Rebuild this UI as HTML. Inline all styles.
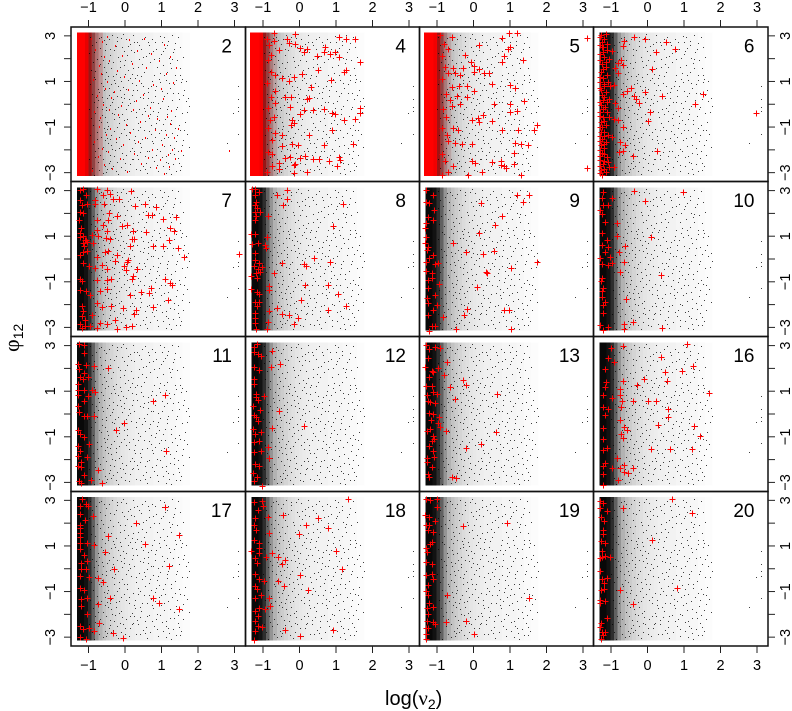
<!DOCTYPE html>
<html lang="en">
<head>
<meta charset="utf-8">
<title>Scatter panels of phi12 against log(nu2)</title>
<style>
html,body{margin:0;padding:0;background:#fff;}
svg{display:block;}
text{font-family:"Liberation Sans",sans-serif;fill:#000;}
</style>
</head>
<body>
<svg id="chart" xmlns="http://www.w3.org/2000/svg" width="792" height="711" viewBox="0 0 792 711">
<text x="385" y="705" font-size="20">log(<tspan font-family="Liberation Serif" font-size="21">ν</tspan><tspan font-size="14" dy="4">2</tspan><tspan dy="-4">)</tspan></text>
<text transform="translate(19,352) rotate(-90)" font-size="20"><tspan font-family="Liberation Serif" font-size="22">φ</tspan><tspan font-size="14" dy="4">12</tspan></text>
</svg>
<script>
const xTicks=[-1,0,1,2,3];
const yTicks=[-3,-2,-1,0,1,2,3];
const yTickLabels=[3,1,-1,-3];
const panelLabels=[2,4,5,6,7,8,9,10,11,12,13,16,17,18,19,20];
const densityStart=-1.32;
const densityWidth=0.1;
const densityAlpha=[.97,.97,.93,.82,.62,.42,.3,.24,.2,.17,.14,.12,.1,.09,.08,.07,.06,.06,.05,.05,.05,.04,.04,.04,.04,.03,.03,.02,.02,.01,.01];
const redEdges=[-1.36,-1.31,-1.2,-1.1,-1,-.9,-.8,-.7,-.6];
const redAlpha2=[0,1,1,.9,.5,.3,.22,.15];
const redAlpha4=[1,1,1,.95,.5,.3,.15,.08];
const redAlpha5=[1,1,1,.95,.55,.3,.15,.08];
const bgPoints=[[3.1,.79],[3.1,.23],[3.1,-.12],[3.1,-.3],[3.1,-1.29],[2.79,-1.68],[2.97,-.37],
[-.72,2.91],[-.66,2.13],[-.81,1.44],[-.6,.82],[-.75,.17],[-.63,-.49],[-.78,-1.21],[-.59,-1.88],[-.74,-2.52],[-.61,-3.01],[-.52,2.66],[-.47,1.81],[-.55,1.12],[-.43,.39],[-.51,-.27],[-.46,-.94],[-.56,-1.57],[-.42,-2.24],[-.49,-2.83],[-.36,3.02],[-.31,2.38],[-.39,1.57],[-.28,.94],[-.35,.08],[-.3,-.66],[-.38,-1.33],[-.27,-2.02],[-.33,-2.69],[-.22,2.79],[-.18,2.07],[-.25,1.33],[-.14,.61],[-.2,-.12],[-.16,-.83],[-.24,-1.66],[-.13,-2.37],[-.19,-3.05],[-.08,2.51],[-.04,1.72],[-.11,1.01],[-.02,.26],[-.07,-.43],[-.03,-1.09],[-.1,-1.84],[0,-2.58],[-.05,3.07],
[-.68,2.48],[-.57,1.62],[-.7,.52],[-.53,-.12],[-.67,-.77],[-.5,-1.46],[-.69,-2.21],[-.54,-2.73],[-.41,2.16],[-.44,.71],[-.29,-.41],[-.37,-1.77],[-.26,-2.91],[-.15,1.91],[-.12,.33],[-.17,-1.42],[-.09,-2.13],[-.01,1.34],[-.06,.77],[-.03,-.68],[-.11,-2.76],[-.23,2.94],[-.32,1.23],[-.21,-.98],[-.4,-2.47],[-.62,.31],[-.48,-1.08],[-.58,2.82],[-.34,.53],
[.03,2.88],[.06,2.17],[.09,1.49],[.02,.69],[.08,-.05],[.05,-.91],[.11,-1.52],[.04,-2.22],[.1,-2.94],[.14,2.63],[.17,1.88],[.13,1.17],[.19,.41],[.16,-.31],[.12,-1.23],[.2,-1.94],[.15,-2.61],[.23,3.03],[.26,2.31],[.22,1.58],[.29,.86],[.25,.14],[.31,-.57],[.27,-1.38],[.24,-2.07],[.3,-2.84],[.34,2.74],[.37,1.97],[.33,.62],[.39,-.19],[.36,-.84],[.41,-1.69],[.35,-2.42],[.44,2.43],[.47,1.76],[.43,.95],[.49,.29],[.46,-.43],[.51,-1.13],[.45,-1.87],[.48,-2.69],[.54,2.97],[.58,2.12],[.53,.48],[.6,-.02],[.56,-.74],[.61,-1.49],[.55,-2.28],[.59,-3.02],[.65,2.59],[.68,1.84],[.64,.73],[.7,.11],[.66,-.62],[.72,-1.31],[.67,-2.03],[.69,-2.77],[.75,2.86],[.79,1.99],[.74,1.02],[.81,.38],[.77,-.29],[.83,-1.02],[.76,-1.72],[.8,-2.51],[.86,2.42],[.89,1.63],[.85,.82],[.91,.05],[.87,-.51],[.93,-1.26],[.88,-1.98],[.9,-2.93],[.96,3.01],[.99,2.21],[.95,1.38],[1.01,.57],[.97,-.16],[1.03,-.88],[.98,-1.58],[1.02,-2.33],
[.07,2.54],[.18,.92],[.28,-1.71],[.38,2.58],[.42,-.98],[.52,1.41],[.57,-2.56],[.63,.27],[.71,-.93],[.78,2.33],[.84,-2.22],[.92,1.12],[.94,-.71],[1,2.73],[1.04,-2.71],[.21,-2.39],[.32,1.29],[.4,-2.88],[.5,.81],[.62,2.74],[.73,-1.59],[.82,.63],
[1.06,2.94],[1.09,2.47],[1.05,1.74],[1.12,1.05],[1.08,.34],[1.14,-.41],[1.1,-1.12],[1.07,-1.83],[1.13,-2.52],[1.11,-3.01],[1.17,2.76],[1.2,2.03],[1.16,1.42],[1.23,.72],[1.19,-.08],[1.25,-.67],[1.18,-1.43],[1.22,-2.14],[1.21,-2.83],[1.28,3.04],[1.31,2.29],[1.27,1.61],[1.34,.88],[1.3,.17],[1.36,-.53],[1.29,-1.24],[1.33,-1.91],[1.32,-2.63],[1.26,-3.06],[1.38,2.68],[1.42,1.93],[1.37,1.27],[1.45,.51],[1.41,-.22],[1.47,-.91],[1.4,-1.62],[1.44,-2.37],[1.39,-2.91],[1.5,1.58],[1.53,.96],[1.49,.23],[1.57,-.38],[1.52,-1.11],[1.55,-1.79],[1.48,-2.56],[1.62,.62],[1.67,.13],[1.71,-.34],[1.64,-.78],[1.69,-1.31],[1.74,-1.89],[1.59,-2.22],[1.54,-2.72],[1.46,2.97],[1.35,2.41],[1.56,1.12],[1.76,-.09],[1.73,.28],[1.66,1.02],[1.6,-1.55],[1.24,1.83],[1.15,.49],[1.43,-1.37],[1.51,2.51],[1.58,2.06],
[-.96,2.97],[-.91,2.58],[-.98,2.23],[-.88,1.87],[-.94,1.52],[-.86,1.19],[-.97,.88],[-.9,.44],[-.85,.09],[-.99,-.23],[-.92,-.59],[-.87,-.93],[-.95,-1.36],[-.89,-1.73],[-.83,-2.06],[-.98,-2.41],[-.91,-2.79],[-.86,-3.09],[-.79,2.74],[-.84,2.31],[-.77,1.98],[-.82,1.09],[-.73,.68],[-.8,.33],[-.76,-.11],[-.83,-.37],[-.71,-.68],[-.78,-1.52],[-.74,-1.91],[-.81,-2.33],[-.7,-2.87],[-.65,2.96],[-.69,1.77],[-.62,1.31],[-.67,.95],[-.6,.12],[-.64,-.22],[-.58,-1.04],[-.66,-1.42],[-.61,-2.41],[-.56,2.37],[-.59,1.96],[-.53,1.43],[-.57,.63],[-.5,.26],[-.54,-.58],[-.48,-.76],[-.55,-1.23],[-.47,-1.69],[-.52,-2.06],[-.45,-2.58],[-.51,-2.97],[-.44,2.84],[-.4,2.43],[-.46,1.24],[-.38,.91],[-.42,-.05],[-.36,-.37],[-.41,-1.51],[-.35,-1.98],[-.39,-2.79],[-.33,1.86],[-.29,1.08],[-.34,.21],[-.27,-.21],[-.31,-1.17],[-.26,-1.47],[-.3,-2.28],[-.24,2.56],[-.2,.82],[-.23,.38],[-.17,-.58],[-.22,-2.53],[-.16,-1.93],[-.13,1.62],[-.1,2.92],[-.14,1.18],[-.07,.08],[-.12,-1.24],[-.06,-2.41],[-.02,2.33],[.01,1.93],[-.04,.47],[.02,-.22],[.04,-1.37],[.01,-2.88],[.07,1.06],[.1,.23],[.06,-.66],[.13,-2.06],[.16,2.36],[.19,1.34],[.15,.05],[.21,-1.08],[.18,-2.41],[.24,2.71],[.28,1.17],[.23,.61],[.3,-.36],[.26,-1.58],[.33,-2.23],[.36,1.62],[.4,.33],[.35,-1.12],[.42,-2.11],[.46,2.86],[.5,2.07],[.44,1.22],[.52,-.16],[.47,-1.52],[.54,-2.83],[.57,1.63],[.62,.53],[.55,-.31],[.65,-1.17],[.6,-2.06],[.67,2.26],[.72,.82],[.69,-.44],[.74,-2.31],[.79,1.27],[.83,2.74],[.78,.11],[.86,-.83],[.81,-1.43],[.88,-2.66],[.93,2.02],[.97,.97],[.91,-.33],[.99,-1.14],[.95,-2.03],[1.03,2.33],[1.07,1.27],[1.02,.13],[1.1,-.66],[1.06,-1.49],[1.12,-2.27],[1.16,2.58],[1.2,.93],[1.15,-.23],[1.23,-1.77],[1.18,-2.58],[1.28,1.97],[1.32,.48],[1.26,-.86],[1.35,-2.18],[1.39,1.08],[1.43,-.1],[1.37,-1.06],[1.46,-2.03],[1.52,1.27],[1.58,.41],[1.61,-1.13],[1.5,-2.89]];
const red2=[[-.92,2.92],[-.83,2.41],[-.72,1.74],[-.88,1.09],[-.76,.42],[-.84,-.31],[-.7,-.96],[-.86,-1.62],[-.74,-2.27],[-.9,-2.88],[-.63,2.77],[-.58,2.11],[-.66,1.36],[-.55,.73],[-.61,.02],[-.68,-.58],[-.52,-1.29],[-.64,-1.91],[-.57,-2.6],[-.48,3.01],[-.43,1.96],[-.5,1.02],[-.38,.31],[-.45,-.22],[-.4,-1.03],[-.47,-2.03],[-.36,-2.79],[-.27,2.62],[-.22,1.51],[-.31,.58],[-.18,-.43],[-.25,-1.48],[-.15,-2.37],[-.08,2.17],[-.02,1.24],[-.11,-.03],[.03,-.86],[-.05,-1.76],[.06,-2.92],[.12,2.84],[.18,1.79],[.09,.66],[.21,-.2],[.15,-1.21],[.25,-2.14],[.33,2.38],[.38,1.08],[.29,.19],[.41,-.72],[.36,-1.6],[.44,-2.56],[.52,2.91],[.58,1.62],[.49,.44],[.62,-.48],[.55,-1.42],[.64,-2.33],[.72,2.25],[.78,.91],[.69,-.11],[.81,-1.08],[.75,-1.98],[.84,-2.77],[.92,1.94],[.98,.72],[.89,-.62],[1.02,-1.74],[.95,-2.41],[1.08,2.63],[1.12,1.37],[1.05,.28],[1.16,-.53],[1.11,-1.32],[1.19,-2.18],[1.07,-3.02],[1.24,2.12],[1.31,.96],[1.27,-.27],[1.22,-.84],[1.34,-1.42],[1.29,-1.96],[1.21,-2.71],[1.41,1.62],[1.37,-2.34],[1.45,-1.06],[1.53,-2.01],[2.85,-2]];
const cross4=[[-.7,3.11],[-.35,2.85],[-.12,3.08],[-.71,2.78],[1.07,2.94],[1.27,2.88],[1.52,2.85],[-.83,2.6],[-.3,2.68],[-.12,2.65],[.02,2.46],[.2,2.41],[.11,2.31],[-.57,2.38],[.7,2.5],[.66,2.28],[.84,2.21],[.96,2.28],[.47,2.12],[1.09,2.09],[1.66,1.84],[1.27,1.51],[1.22,1.43],[.52,1.51],[.06,1.33],[-.16,1.18],[-.3,1.02],[-.48,1.14],[-.67,1.29],[.87,1.07],[.32,.77],[-.68,.6],[-.39,.31],[-.23,.31],[.25,.26],[.2,.22],[-.26,-.1],[.38,-.25],[.11,-.25],[.68,-.2],[1.66,-.18],[1.66,-.37],[.9,-.39],[.96,-.44],[0,-.42],[1.23,-.69],[1.53,-.66],[-.21,-.69],[-.16,-.83],[-.23,-.91],[.89,-1.13],[.25,-1.35],[-.48,-1.35],[-.67,-1.27],[-.21,-1.74],[-.03,-1.78],[-.48,-1.83],[.66,-1.8],[1.46,-1.75],[-.26,-2.3],[-.39,-2.37],[.02,-2.37],[.15,-2.27],[.38,-2.41],[.54,-2.41],[-.12,-2.62],[-.16,-2.66],[.82,-2.47],[1.07,-2.32],[1.1,-2.44],[1.04,-2.73],[-.16,-3.03],[.2,-2.95],[-.57,-2.59],[-.76,-2.73],[-.57,-2.85],[-.8,-.69],[-.71,-.54],[-.85,-.18],[-.68,.04],[-.86,1.93],[-.79,1.43],[-.88,.93],[-.77,.3],[-.86,-1.02],[-.74,-1.55],[-.87,-2.1],[-.78,2.15],[-.9,2.87],[-.88,-2.95],[-.75,-2.2]];
const cross5=[[.98,3.11],[1.2,3.11],[.77,2.89],[3.12,2.89],[-.6,2.97],[.16,2.6],[1,2.5],[.95,2.41],[-.69,2.41],[-.23,2.16],[.84,2.12],[.77,1.84],[1.35,1.92],[-.08,1.87],[0,1.68],[-.28,1.58],[.16,1.54],[.01,1.42],[.29,1.39],[.42,1.39],[-.55,1.61],[-.51,1.39],[-.69,1.36],[-.37,1.29],[.5,.88],[1,.85],[1.15,.7],[-.39,.8],[-.17,.8],[0,.58],[-.6,.77],[-.46,.37],[-.17,.31],[-.64,.19],[-.37,.01],[.56,.01],[1,.01],[1.37,.15],[-.6,-.07],[1,-.35],[1.18,-.28],[.27,-.47],[.13,-.61],[.16,-.76],[-.03,-.69],[.52,-.73],[1.73,-.91],[1.67,-1.13],[1.21,-1.13],[.79,-1.13],[-.42,-1.13],[-.57,-1.05],[-.87,-1.05],[-.69,-1.59],[-.51,-1.71],[-.31,-1.74],[-.03,-1.74],[1.15,-1.71],[1.29,-1.75],[1.5,-1.78],[1.11,-2.15],[-.55,-2.7],[-.03,-2.51],[.04,-2.56],[.52,-2.54],[.75,-2.51],[.75,-2.66],[.84,-2.7],[.89,-2.81],[1.12,-2.63],[3.12,-2.81],[-.14,-3.1],[.22,-2.98],[1.29,-3.1],[-.87,-3.1],[-.82,2.65],[-.86,2.1],[-.78,1.62],[-.85,1.12],[-.75,.45],[-.84,-.2],[-.76,-.55],[-.72,-1.33],[-.85,-2.2],[-.78,-2.5],[-.7,-2.95],[-.93,3.02]];
const cross6=[[-1.13,3.09],[-.64,2.78],[-.38,2.95],[-.06,2.85],[.51,2.72],[.76,2.41],[.22,2.3],[-.68,2.54],[-.98,2.34],[-.73,1.96],[-.82,1.81],[-.68,1.74],[-.89,1.61],[-.82,1.35],[.13,1.54],[-.93,.83],[-.46,.7],[-.57,.58],[-.68,.47],[-.06,.54],[-.38,.35],[-.31,.23],[-.24,.06],[.39,.35],[1.52,.44],[1.31,0],[2.98,-.39],[-.89,.06],[-.82,-.16],[.07,-.35],[.02,-.75],[-.93,-.63],[-.82,-.7],[-.68,-1],[-.98,-1.43],[-.75,-1.65],[-.61,-1.77],[-.77,-2.09],[-.68,-2.05],[-.4,-2.28],[.27,-2.06],[-.93,-2.75],
[-1.28,3.03],[-1.19,2.88],[-1.26,2.73],[-1.1,2.66],[-1.21,2.49],[-1.1,2.37],[-1.3,2.22],[-1.19,2.08],[-1.05,2],[-1.26,1.78],[-1.15,1.64],[-1.28,1.42],[-1.1,1.27],[-1.21,1.13],[-1.3,.98],[-1.08,.98],[-1.19,.79],[-1.03,.79],[-1.28,.61],[-1.15,.54],[-1.26,.39],[-1.05,.25],[-1.28,-.04],[-1.17,-.12],[-1.3,-.34],[-1.1,-.34],[-1.21,-.56],[-1.05,-.56],[-1.28,-.77],[-1.15,-.92],[-1.28,-1.21],[-1.08,-1.36],[-1.24,-1.51],[-1.15,-1.65],[-1.28,-1.8],[-1.19,-1.94],[-1.26,-2.13],[-1.1,-2.31],[-1.3,-2.46],[-1.21,-2.63],[-1.05,-2.75],[-1.28,-2.89],[-1.15,-2.97],[-1.26,-3.11],[-1.08,-2.54],[-1.19,.32],[-1.24,-1],[-1.12,.1],[-1.24,2.51],[-1.15,1.85],[-1.29,2.95],[-1.3,2.6],[-1.21,2.3],[-1.29,1.95],[-1.22,1.55],[-1.3,1.2],[-1.18,.9],[-1.3,.72],[-1.21,.2],[-1.3,.12],[-1.22,-.22],[-1.29,-.5],[-1.18,-.72],[-1.3,-1],[-1.2,-1.2],[-1.3,-1.4],[-1.18,-1.4],[-1.3,-1.62],[-1.2,-1.75],[-1.3,-2],[-1.18,-2.18],[-1.3,-2.25],[-1.19,-2.48],[-1.3,-2.7],[-1.2,-2.82],[-1.29,-3]];
const cross7=[[-.78,3.07],[-.48,3.04],[.16,2.98],[-.59,2.82],[-.41,2.87],[-.82,2.6],[-.32,2.63],[-.16,2.65],[-.82,2.43],[-1.03,2.43],[-.58,2.43],[.27,2.31],[.55,2.43],[.84,2.28],[-.44,2.02],[-.21,1.9],[.64,1.94],[.73,1.94],[1.05,1.75],[1.39,1.84],[-.78,1.7],[-.46,1.7],[-.59,1.5],[-.09,1.46],[.06,1.5],[1.23,1.36],[1.34,1.21],[.21,1.21],[.57,1.18],[-.78,1.29],[-.5,1.24],[-.91,1.07],[-.73,1.02],[-.52,.92],[-.41,.88],[.18,.89],[.26,.88],[1.21,.85],[-1.1,.85],[-1.05,.75],[-1.14,.7],[-.87,.7],[.76,.58],[1.05,.55],[1.44,.48],[.14,.58],[-.46,.37],[-.55,.31],[-.23,.19],[-.78,.09],[3.12,.23],[1.63,.09],[-.27,-.07],[.09,-.03],[.05,-.15],[-.03,-.32],[.32,-.42],[-.64,-.25],[-.82,-.39],[-.5,-.44],[.03,-.5],[.23,-.76],[.18,-.88],[-.37,-.88],[1.1,-.88],[1.23,-1.05],[1.3,-1.15],[-.78,-.91],[-.5,-.91],[.71,-1.27],[.67,-1.49],[.43,-1.45],[.14,-1.56],[-.68,-1.42],[-.5,-1.32],[1.19,-1.78],[-.78,-1.93],[-.64,-2.11],[-.37,-2.08],[-.05,-2.15],[.29,-2.25],[.26,-2.4],[.76,-2.11],[-.27,-2.69],[-.5,-2.84],[-.23,-3.06],[.03,-2.98],[.18,-2.92],[-.68,-2.81],[-.78,-3.03],
[-1.23,3.04],[-1.14,3.07],[-1.07,2.82],[-1.23,2.6],[-1.19,2.38],[-1.23,2.05],[-1.16,2.02],[-1.25,1.73],[-1.21,1.36],[-1.23,1.14],[-1.14,.99],[-1.23,.97],[-1.07,.82],[-1.12,.55],[-1.23,.19],[-1.16,.29],[-1.03,.34],[-1.16,-.18],[-1,-.29],[-1.23,-.88],[-1.19,-.95],[-1.23,-1.35],[-1.07,-1.42],[-1.19,-2.08],[-1.14,-2.3],[-1.19,-2.52],[-1.1,-2.66],[-1.23,-2.84],[-1.19,-3.03],[-1.1,-2.95],[-.96,-2.95],[-.91,-2.44],[-.96,-1.56]];
const cross8=[[-.35,3.04],[-.62,2.81],[-.35,2.63],[-.44,2.37],[1.19,2.41],[-.87,1.9],[.93,1.46],[.41,.06],[.11,-.22],[.17,-.29],[-.47,-.16],[.84,-.12],[-.71,-.6],[-.83,-1.17],[.16,-1.14],[.79,-1.14],[1.05,-1.54],[.05,-1.8],[1.27,-2.06],[.78,-2.22],[-.62,-2.16],[-.83,-2.28],[-.47,-2.41],[-.3,-2.46],[-.03,-2.6],[-.16,-2.85],[-.87,-2.75],[-.9,-3.08],[-.89,.98],[-.94,.61],[-.92,.5],[-.83,-1.36],[-1.31,3.07],[-1.1,2.95],[-1.21,2.81],[-1.23,2.37],[-1.17,2.22],[-1.21,2.05],[-1.08,2.08],[-1.21,1.71],[-1.32,1.08],[-1.21,1.08],[-1.31,.64],[-1.14,.69],[-1.21,.25],[-1.21,-.04],[-1.12,-.19],[-1.03,-.34],[-1.14,-.44],[-1.08,-.58],[-1.32,-.75],[-1.17,-.85],[-1.32,-1.33],[-1.17,-1.43],[-1.1,-1.87],[-1.17,-2.05],[-1.23,-2.38],[-1.21,-2.6],[-1.23,-2.82],[-1.2,-3.08],[-1.21,3.07],[-1.2,2.5],[-1.19,1.9],[-1.25,-.3],[-1.2,-.6],[-1.12,-1.55],[-1.22,-1.9]];
const cross9=[[1.18,2.8],[1.52,2.8],[1.35,2.51],[.21,2.44],[.79,1.89],[.6,1.49],[.16,1.15],[-.55,.71],[-.21,.32],[.25,.22],[.55,.36],[1.75,-.12],[1.02,-.38],[.34,-.56],[.36,-.6],[.09,-1.23],[-.17,-2.19],[-.25,-2.46],[.84,-2.22],[.98,-2.22],[1.03,-3.07],[-.48,-3.07],[-.83,-2.53],[-.94,-1.1],[-.96,-.16],[-1.08,2.15],[-1.3,3.02],[-1.1,2.8],[-1.3,2.51],[-1.21,2.44],[-1.26,1.85],[-1.1,1.7],[-1.3,1.56],[-1.33,1.34],[-1.3,.98],[-1.33,.69],[-1.26,.54],[-1.28,.39],[-1.1,.18],[-1.21,.06],[-1.3,-.12],[-1.05,-.23],[-1.3,-.53],[-1.15,-.63],[-1.24,-.92],[-1.15,-.85],[-1.26,-1.29],[-1.28,-1.7],[-1.05,-1.58],[-1.24,-1.94],[-1.01,-2.02],[-1.1,-2.24],[-1.24,-2.46],[-1.15,-2.92],[-1.05,-2.92],[-1.21,-3.16]];
const cross10=[[-.36,2.99],[.96,2.95],[-.06,2.54],[-.83,1.6],[.1,.95],[-.83,1.02],[-.62,.58],[-.77,.29],[-.64,-.12],[-.75,-.58],[.36,-.7],[-.6,-1.76],[-.64,-2.85],[-.39,-2.75],[.39,-3.01],[-.64,-3.07],[-.98,2.66],[-1.07,2.37],[-1.23,2.95],[-1.26,2.66],[-1.21,2.37],[-1.3,2.15],[-1.26,1.96],[-1.16,1.64],[-1.26,1.13],[-1.12,.83],[-1.26,.61],[-1.07,.54],[-1.16,.29],[-1.3,.06],[-1.03,.1],[-1.26,-.23],[-1.07,-.26],[-.98,-.19],[-1.26,-.85],[-1.21,-1.29],[-1.26,-1.65],[-1.21,-2.02],[-1.21,-2.38],[-1.3,-2.89],[-1.07,-2.97],[-1.21,-3.11],[-1.27,-.95],[-1.25,-1.4],[-1.16,-1.9]];
const cross11=[[-.47,2.02],[-.86,2.12],[.76,.58],[1.1,.85],[-.02,-.41],[-.25,-.69],[1.11,-1.61],[-.73,-2.44],[-.64,-3.04],[-.93,-2.89],[-.82,.95],[-.91,1.05],[-.84,-.1],[-.98,-1.32],[-1.02,1.61],[-1.25,3.07],[-1.13,3.04],[-1.13,2.66],[-1.3,2.19],[-1.07,2.16],[-1.25,1.97],[-1.11,1.78],[-1.22,1.61],[-1.16,1.53],[-1.3,1.32],[-1.28,1.05],[-1.11,1.05],[-1.3,.85],[-1.02,.8],[-1.13,.56],[-1.28,.37],[-1.25,.07],[-1.13,-.07],[-1.04,-.07],[-1.3,-.7],[-1.22,-.88],[-1.11,-1.02],[-1.3,-1.39],[-1.22,-1.61],[-1.28,-1.83],[-1.04,-1.9],[-1.21,-2.12],[-1.3,-2.27],[-1.21,-2.31],[-1.13,-2.66],[-1.25,-2.92],[-1.21,-3.04]];
const cross12=[[-.76,2.75],[-.53,2.2],[-.78,2.04],[-.57,.12],[.11,-.51],[-.76,-.62],[-.85,-1.43],[-.83,-1.94],[-1.04,-3.14],[-1.16,3.07],[-1.26,2.92],[-1.26,2.7],[-1.15,2.63],[-1.05,2.56],[-1.26,2.05],[-1.1,1.95],[-1.26,1.53],[-1.26,1.32],[-1.19,.88],[-1.19,.73],[-1.13,.61],[-.98,.8],[-1.28,.37],[-1.07,.18],[-1.26,-.03],[-1.19,-.15],[-1.13,-.29],[-1.28,-.66],[-1.22,-.88],[-1.05,-.8],[-1.26,-1.24],[-1.1,-1.17],[-1.26,-1.68],[-1.05,-1.61],[-1.22,-2.19],[-1.1,-2.27],[-1.28,-2.6],[-1.16,-2.78],[-1.26,-2.92]];
const cross13=[[-.92,2.91],[-.72,2.3],[-.96,2.02],[-.81,1.73],[-.3,1.5],[-.21,1.29],[-.64,1.2],[.65,.88],[-.51,.64],[.63,-.78],[-.21,-1.47],[.21,-1.33],[-.58,-2.75],[-.49,-2.79],[-.74,-.73],[-.92,-.58],[-.94,-.12],[-.99,.88],[-1.3,3.04],[-1.21,2.85],[-1.05,2.92],[-1.24,2.45],[-1.33,2.05],[-1.1,1.83],[-1.21,1.64],[-1.15,1.9],[-1.3,1.24],[-1.15,1.24],[-1.28,.85],[-1.1,.95],[-1.24,.58],[-1.05,.47],[-1.19,.51],[-1.21,.03],[-1.1,0],[-1.17,-.26],[-.96,-.41],[-1.28,-.73],[-1.19,-.66],[-1.1,-.95],[-1.15,-1.17],[-1.08,-1.1],[-1.21,-1.39],[-1.1,-1.64],[-1.28,-1.93],[-1.08,-1.9],[-1.28,-2.12],[-1.15,-2.31],[-1.26,-2.63],[-1.21,-2.75]];
const cross16=[[1.07,3.07],[-.68,2.98],[.36,2.49],[-1,2.88],[-1.07,2.47],[-.92,2.3],[-1.16,1.97],[1.24,2.1],[.95,1.89],[.49,1.84],[-.1,1.55],[.54,1.46],[-.68,1.46],[-.28,1.27],[-1.14,1.42],[-1.16,1.17],[-.75,1.08],[-.74,.83],[1.69,.94],[-1.21,.83],[-.98,.69],[-.69,.57],[-.39,.57],[.02,.57],[.22,.57],[-.72,.32],[.57,.22],[-1.21,.29],[-1.07,.22],[.57,-.12],[-1.16,-.06],[-.75,-.26],[.3,-.48],[1.28,-.53],[-.64,-.56],[-.57,-.7],[-.72,-.88],[1.44,-.96],[-.68,-1.07],[-1.23,-.63],[-1.23,-1.11],[-1.12,-1.5],[-1.23,-1.58],[.09,-1.54],[.63,-1.54],[1.23,-1.54],[-.83,-1.94],[-.64,-2.24],[-1.16,-2.13],[-1.23,-2.28],[-.98,-2.38],[-.75,-2.35],[-.41,-2.35],[-.64,-2.53],[-.53,-2.57],[-1.23,-2.63],[-.8,-2.89],[-1.21,-3.11]];
const cross17=[[1.1,2.7],[.3,1.99],[1.49,1.46],[.55,1.07],[-.46,1.43],[-.89,2.31],[-.86,1.02],[-.54,.73],[-.29,-.03],[1.21,.1],[-.61,-.58],[-.75,-.42],[-.4,-1.27],[.76,-1.29],[.94,-1.49],[1.49,-1.77],[-.75,-1.56],[-.7,-2.4],[-.84,-2.73],[-.32,-2.81],[-.05,-3.04],[-1.18,3.08],[-1.07,2.85],[-1.22,2.75],[-1.02,2.75],[-1.22,2.41],[-1.1,2.16],[-1.22,1.94],[-1.22,1.77],[-1.22,1.58],[-1.22,1.39],[-1.22,1.14],[-1.04,1.14],[-1.22,.85],[-1.11,.6],[-1.21,.26],[-1.04,.34],[-1.21,0],[-1.07,0],[-1.22,-.32],[-.98,-.37],[-1.22,-.83],[-1.13,-.94],[-1.21,-1.34],[-1.04,-1.3],[-1.21,-1.64],[-1.04,-2],[-1.22,-2.52],[-1.16,-2.66],[-.98,-2.59],[-1.22,-3],[-1.07,-3.06]];
const cross18=[[1.32,3.08],[-.46,2.35],[.5,2.21],[-.85,2.27],[.19,1.9],[.77,1.77],[-.02,1.51],[-.84,1.58],[1,.8],[-.74,.69],[-.58,.51],[-.4,.39],[-.49,.19],[-.93,.51],[1.17,-.03],[.02,-.29],[-.58,-.54],[-.42,-.76],[.22,-.95],[-.84,-1.3],[-.81,-1.64],[-.94,-1.75],[-.4,-2.69],[.93,-2.7],[.02,-2.95],[-1.04,-2.56],[-1.26,2.94],[-1.04,2.97],[-1.01,2.75],[-1.15,2.56],[-1.21,2.21],[-1.26,1.94],[-1.19,1.68],[-1.26,1.24],[-1.1,1.14],[-1.1,.92],[-1.33,.77],[-1.1,.69],[-1.22,.48],[-1.16,.26],[-1.22,-.25],[-1.1,-.47],[-.98,-.54],[-1.22,-.76],[-1.16,-.91],[-1.05,-1.15],[-1.22,-1.3],[-1.1,-1.71],[-1.22,-1.86],[-1.15,-2.08],[-1.22,-2.27],[-1.15,-2.52],[-1.23,-2.71],[-1.26,-3.14]];
const cross19=[[-.3,1.86],[.91,1.99],[1.53,-1.3],[-.72,-1.13],[-.74,-2.34],[-.21,-2.27],[.02,-2.84],[-1.3,3.08],[-1.19,3],[-.99,3.08],[-.99,2.7],[-1.33,2.35],[-1.21,2.27],[-1.05,2.09],[-1.3,1.9],[-1.21,1.9],[-1.26,1.72],[-1.12,1.62],[-1.15,1.18],[-1.19,1.07],[-1.3,.89],[-1.28,.75],[-1.3,.31],[-1.15,.19],[-1.3,-.28],[-1.15,-.25],[-1.12,-.47],[-1.24,-.73],[-1.3,-.98],[-1.24,-1.16],[-1.21,-1.49],[-1.28,-1.71],[-1.12,-1.68],[-1.26,-1.97],[-1.28,-2.27],[-1.12,-2.33],[-1.05,-2.41],[-1.3,-2.59],[-1.26,-2.62],[-1.3,-2.85],[-1.3,-3.06]];
const cross20=[[.68,3.04],[-.66,2.65],[1.23,2.43],[.13,1.24],[-.74,-.94],[.82,-.86],[-.41,-1.55],[-1.03,.5],[-1.3,2.98],[-1.21,2.87],[-1.3,2.65],[-1.1,2.54],[-1.27,2.28],[-1.19,2.1],[-1.23,1.7],[-1.21,1.52],[-1.28,1.21],[-1.16,1.11],[-1.26,.78],[-1.26,.5],[-1.16,.56],[-1.3,.45],[-1.3,-.1],[-1.26,-.45],[-1.1,-.39],[-1.19,-.64],[-1.28,-.94],[-1.19,-.91],[-1.3,-1.35],[-1.16,-1.4],[-1.3,-1.49],[-1.1,-2.18],[-1.28,-2.4],[-1.3,-2.54],[-1.16,-2.76],[-1.26,-2.76],[-1.28,-3.1],[-1.23,-2.91]];
const panelCrosses=[[],cross4,cross5,cross6,cross7,cross8,cross9,cross10,cross11,cross12,cross13,cross16,cross17,cross18,cross19,cross20];
const panelRedBands=[redAlpha2,redAlpha4,redAlpha5,null,null,null,null,null,null,null,null,null,null,null,null,null];

const svg=document.getElementById('chart');
const NS='http://www.w3.org/2000/svg';
const colEdges=[71,245.5,419.5,593.5,768];
const rowEdges=[27,181.5,336.5,491.5,646];
const xUnit=36.5,yUnit=22.8,xZero=54,yMax=3.14;
function xScale(col,v){return colEdges[col]+xZero+v*xUnit;}
function yScale(row,v){return (rowEdges[row]+rowEdges[row+1])/2-v*yUnit;}
function make(tag,attrs,parent){
  const el=document.createElementNS(NS,tag);
  for(const k in attrs){el.setAttribute(k,attrs[k]);}
  parent.appendChild(el);
  return el;
}
function tick(x1,y1,x2,y2){
  const el=make('line',{x1:x1,y1:y1,x2:x2,y2:y2,stroke:'#222','stroke-width':1},svg);
  
  
}
function label(x,y,str,rot){
  const el=make('text',{'font-size':14.5,'text-anchor':'middle'},svg);
  
  
  el.setAttribute('transform','translate('+x+','+y+')'+(rot?' rotate(-90)':''));
  el.textContent=String(str).replace('-','\u2212');
}
panelLabels.forEach(function(name,i){
  const col=i%4,row=Math.floor(i/4);
  const g=make('g',{},svg);
  
  
  const top=yScale(row,yMax),bot=yScale(row,-yMax);
  densityAlpha.forEach(function(a,b){
    const x0=xScale(col,densityStart+b*densityWidth),x1=xScale(col,densityStart+(b+1)*densityWidth);
    const r=make('rect',{x:x0,y:top,width:x1-x0,height:bot-top,fill:'#000','fill-opacity':a,'shape-rendering':'crispEdges'},g);
    
    
  });
  const band=panelRedBands[i];
  if(band){
    band.forEach(function(a,b){
      const x0=xScale(col,redEdges[b]),x1=xScale(col,redEdges[b+1]);
      const r=make('rect',{x:x0,y:top,width:x1-x0,height:bot-top,fill:'#f00','fill-opacity':a,'shape-rendering':'crispEdges'},g);
      
      
    });
  }
  bgPoints.forEach(function(p){
    const r=make('rect',{x:Math.round(xScale(col,p[0])),y:Math.round(yScale(row,p[1])),width:1,height:1,fill:'#000','fill-opacity':.75},g);
    
    
  });
  if(name===2){
    red2.forEach(function(p){
      const r=make('rect',{x:Math.round(xScale(col,p[0])),y:Math.round(yScale(row,p[1])),width:1,height:2,fill:'#f00'},g);
      
      
    });
  }
  panelCrosses[i].forEach(function(p){
    const cx=Math.round(xScale(col,p[0]))+.5,cy=Math.round(yScale(row,p[1]))+.5;
    const m=make('path',{d:'M'+(cx-3)+' '+cy+'H'+(cx+3)+'M'+cx+' '+(cy-3)+'V'+(cy+3),stroke:'#f00','stroke-width':1,fill:'none'},g);
    
    
  });
  const f=make('rect',{x:colEdges[col],y:rowEdges[row],width:colEdges[col+1]-colEdges[col],height:rowEdges[row+1]-rowEdges[row],fill:'none',stroke:'#111','stroke-width':1.5},g);
  
  
  const t=make('text',{x:colEdges[col+1]-13.5,y:rowEdges[row]+25.5,'font-size':19,'text-anchor':'end'},g);
  
  
  t.textContent=name;
});
for(let col=0;col<4;col++){
  xTicks.forEach(function(v){
    const x=xScale(col,v);
    tick(x,rowEdges[0],x,rowEdges[0]-7);
    tick(x,rowEdges[4],x,rowEdges[4]+7);
    label(x,12,v,false);
    label(x,670,v,false);
  });
}
for(let row=0;row<4;row++){
  yTicks.forEach(function(v){
    const y=yScale(row,v);
    tick(colEdges[0],y,colEdges[0]-7,y);
    tick(colEdges[4],y,colEdges[4]+7,y);
  });
  yTickLabels.forEach(function(v){
    const y=yScale(row,v);
    label(55,y,v,true);
    label(790,y,v,true);
  });
}
</script>
</body>
</html>
